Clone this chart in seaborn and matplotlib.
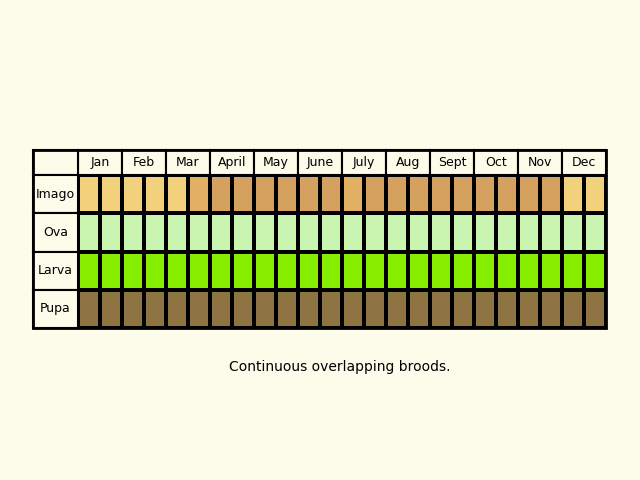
import matplotlib
matplotlib.use("Agg")
import matplotlib.pyplot as plt
import seaborn as sns
import numpy as np
from matplotlib.colors import ListedColormap
from matplotlib.patches import Rectangle

months = ["Jan","Feb","Mar","April","May","June","July","Aug","Sept","Oct","Nov","Dec"]
stages = ["Imago","Ova","Larva","Pupa"]
# codes per half-month: 0 light imago, 1 medium imago, 2 dark imago, 3 ova, 4 larva, 5 pupa
imago = [0,0,0,0,0,1,2,2,2,2,2,2,1,2,2,2,2,2,2,2,2,2,0,0]
ova = [3]*24
larva = [4]*24
pupa = [5]*24
colors = ["#F3D07C","#E2B062","#D4A15E","#C9F5B0","#88EE00","#8E7442"]

bg = "#FDFBEA"
data = np.array([imago, ova, larva, pupa])
fig = plt.figure(figsize=(6.4,4.8), dpi=100, facecolor=bg)
ax = fig.add_axes([78/640, (480-328)/480, (606-78)/640, (328-175)/480])
sns.heatmap(data, ax=ax, cmap=ListedColormap(colors), vmin=-0.5, vmax=5.5,
            cbar=False, linewidths=1.5, linecolor="black", xticklabels=False, yticklabels=False)
ax.set_xlim(0,24); ax.set_ylim(4,0)
hh = 25/38.25
lw = 22.0
for i, m in enumerate(months):
    ax.add_patch(Rectangle((2*i, -hh), 2, hh, facecolor=bg, edgecolor="black", lw=1.5, clip_on=False))
    ax.text(2*i+1, -hh/2, m, ha="center", va="center", fontsize=9, clip_on=False)
ax.add_patch(Rectangle((-45/lw, -hh), 45/lw, hh, facecolor=bg, edgecolor="black", lw=1.5, clip_on=False))
for j, s in enumerate(stages):
    ax.add_patch(Rectangle((-45/lw, j), 45/lw, 1, facecolor=bg, edgecolor="black", lw=1.5, clip_on=False))
    ax.text(-45/lw/2, j+0.5, s, ha="center", va="center", fontsize=9, clip_on=False)
ax.add_patch(Rectangle((-45/lw, -hh), 24+45/lw, 4+hh, facecolor="none", edgecolor="black", lw=2, clip_on=False))
fig.text(340/640, 1-367/480, "Continuous overlapping broods.", ha="center", va="center", fontsize=10)
fig.savefig("out.png", dpi=100, facecolor=bg)
